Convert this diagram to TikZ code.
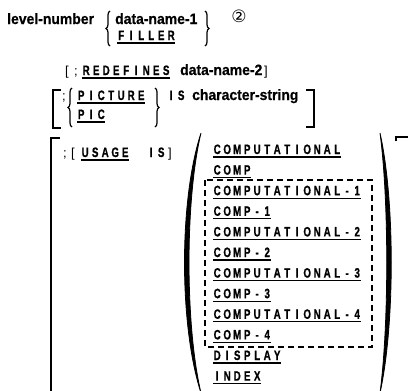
\documentclass[tikz,border=0pt]{standalone}
\usepackage{fontspec}
\setmainfont{Liberation Sans}
\newfontfamily\kwfont[FakeStretch=0.72, Scale=1.36, FakeBold=0.8]{Liberation Sans}
\newfontfamily\lcfont[FakeStretch=0.93, Scale=1.5, FakeBold=0.6]{Liberation Sans}
\newfontfamily\smfont[Scale=1.3]{Liberation Sans}
\newfontfamily\symfont[Scale=1.7]{DejaVu Sans}
\usetikzlibrary{decorations.pathreplacing}
\newcommand\cells[1]{\cellsloop#1\relax}
\def\cellsloop#1{\ifx\relax#1\else\makebox[10pt]{#1}\expandafter\cellsloop\fi}
\newcommand\undl[1]{\draw[ulst] ([xshift=1pt,yshift=-3pt]#1.base west) -- ([xshift=-1.5pt,yshift=-3pt]#1.base east);}
\begin{document}
\begin{tikzpicture}[x=1pt,y=-1pt,
  kw/.style={font=\kwfont\bfseries, inner sep=0pt, anchor=base west},
  lc/.style={font=\lcfont\bfseries, inner sep=0pt, anchor=base west},
  sm/.style={font=\smfont, inner sep=0pt, anchor=base west},
  ulst/.style={line width=1.3pt},
  brc/.style={decorate, decoration={brace, amplitude=4pt}, line width=1.2pt},
  brk/.style={line width=1.7pt},
  dbox/.style={line width=1.2pt, dash pattern=on 6pt off 4pt}]
\useasboundingbox (0,0) rectangle (408,391);
% row 1
\node[lc] (lvl) at (7,24) {level-number};
\draw[brc] (110,46) -- (110,11);
\node[lc] (dn1) at (115,24) {data-name-1};
\node[kw] (fil) at (116,40) {\cells{FILLER}}; \undl{fil}
\draw[brc] (205,11) -- (205,46);
\node[font=\symfont, inner sep=0pt] (two) at (239,16) {②};
% row 2
\node[sm] (lb2) at (65,75) {[};
\node[sm] (sc2) at (74,75) {;};
\node[kw] (redef) at (81,75) {\cells{REDEFINES}}; \undl{redef}
\node[lc] (dn2) at (180,75) {data-name-2};
\node[sm] (rb2) at (264,75) {]};
% row 3
\draw[brk] (61,90) -- (53,90) -- (53,128) -- (61,128);
\node[sm] (sc3) at (62,100) {;};
\draw[brc] (72,127) -- (72,88);
\node[kw] (pict) at (76,100) {\cells{PICTURE}}; \undl{pict}
\node[kw] (pic) at (76,119) {\cells{PIC}}; \undl{pic}
\draw[brc] (155,88) -- (155,127);
\node[kw] (is3) at (166,100) {\cells{IS}};
\node[lc] (cs) at (192,100) {character-string};
\draw[brk] (306,90) -- (314,90) -- (314,127) -- (306,127);
% row 4
\draw[brk] (60,138) -- (51,138) -- (51,395);
\node[sm] (sc4) at (63,157) {;};
\node[sm] (lb4) at (71,157) {[};
\node[kw] (usage) at (80,157) {\cells{USAGE}}; \undl{usage}
\node[kw] (is4) at (146,157) {\cells{IS}};
\node[sm] (rb4) at (168,157) {]};
% parentheses
\fill[draw, line width=0.8pt] (201,133) .. controls (179,200) and (179,325) .. (201,393) .. controls (185,325) and (185,200) .. (201,133);
\fill[draw, line width=0.8pt] (380,133) .. controls (395,200) and (395,325) .. (380,393) .. controls (389,325) and (389,200) .. (380,133);
% keywords
\foreach \w [count=\i] in {COMPUTATIONAL,COMP,COMPUTATIONAL-1,COMP-1,COMPUTATIONAL-2,COMP-2,COMPUTATIONAL-3,COMP-3,COMPUTATIONAL-4,COMP-4,DISPLAY,INDEX}{
  \node[kw] (k\i) at (212,154+20.6*\i-20.6) {\expandafter\cells\expandafter{\w}};
  \undl{k\i}
}
\draw[dbox] (205,180) rectangle (372,347);
\draw[brk, line width=1.3pt] (396,141) -- (396,137) -- (408,137);
\end{tikzpicture}
\end{document}
